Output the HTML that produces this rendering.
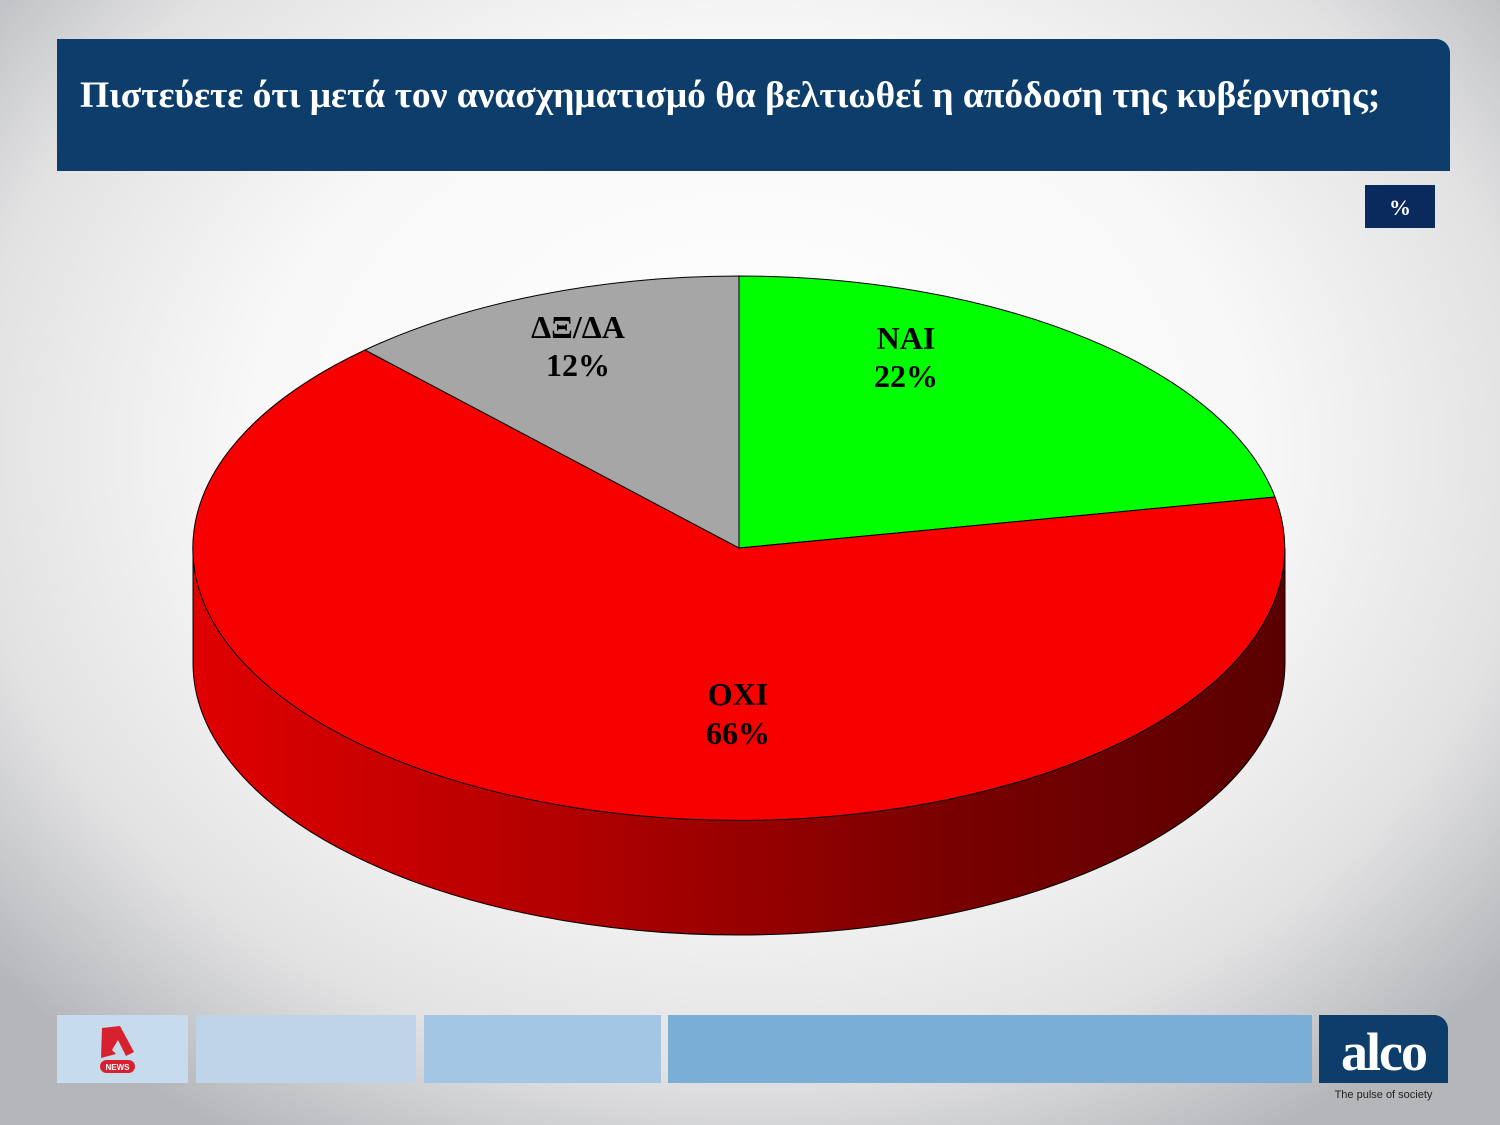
<!DOCTYPE html>
<html><head><meta charset="utf-8"><style>
body{margin:0;width:1500px;height:1125px;overflow:hidden;font-family:"Liberation Serif",serif;}
.bg{position:absolute;left:0;top:0;width:1500px;height:1125px;background:radial-gradient(ellipse 1000px 800px at 750px 450px,#ffffff 0%,#f8f8f8 50%,#e2e2e3 78%,#b4b6ba 100%);}
.hdr{position:absolute;left:57px;top:39px;width:1393px;height:132px;background:#0d3d6b;border-top-right-radius:14px;}
.title{position:absolute;left:80px;top:74px;color:#fff;font-weight:bold;font-size:37.5px;white-space:nowrap;}
.pct{position:absolute;left:1365px;top:185px;width:70px;height:43px;background:#0a2a5e;color:#fff;font-weight:bold;font-size:22px;text-align:center;line-height:45px;}
.b{position:absolute;top:1015px;height:68px;}
</style></head><body>
<div class="bg"></div>
<div class="hdr"></div>
<div class="title">Πιστεύετε ότι μετά τον ανασχηματισμό θα βελτιωθεί η απόδοση της κυβέρνησης;</div>
<div class="pct">%</div>
<svg style="position:absolute;left:0;top:0" width="1500" height="1125">
<defs><linearGradient id="g" x1="193" x2="1285" y1="0" y2="0" gradientUnits="userSpaceOnUse">
<stop offset="0" stop-color="#e00000"/><stop offset="0.35" stop-color="#b00000"/><stop offset="0.7" stop-color="#780000"/><stop offset="1" stop-color="#5a0000"/></linearGradient></defs>
<path d="M193,548 A546,272 0 0 0 1285,548 L1285,663 A546,272 0 0 1 193,663 Z" fill="url(#g)" stroke="#000" stroke-width="1"/>
<path d="M739,548 L739,276 A546,272 0 0 1 1275,497 Z" fill="#00ff00" stroke="#000" stroke-width="1"/>
<path d="M739,548 L1275,497 A546,272 0 1 1 365,350 Z" fill="#f80000" stroke="#000" stroke-width="1"/>
<path d="M739,548 L365,350 A546,272 0 0 1 739,276 Z" fill="#a6a6a6" stroke="#000" stroke-width="1"/>
<g font-family="Liberation Serif,serif" font-weight="bold" font-size="32" text-anchor="middle" fill="#000">
<text x="906" y="349">ΝΑΙ</text><text x="906" y="387">22%</text>
<text x="578" y="338">ΔΞ/ΔΑ</text><text x="578" y="376">12%</text>
<text x="738" y="705">ΟΧΙ</text><text x="738" y="744">66%</text>
</g>
</svg>
<div class="b" style="left:57px;width:131px;background:#c6dbeb"></div>
<svg style="position:absolute;left:98px;top:1024px" width="40" height="52"><path d="M4,4 L22,2 L36,28 L28,32 L20,16 L14,26 L18,30 L3,34 Z" fill="#d8212f"/><rect x="2" y="36" width="35" height="13" rx="6.5" fill="#d8212f"/><text x="19.5" y="46" font-family="Liberation Sans,sans-serif" font-size="8" font-weight="bold" fill="#fff" text-anchor="middle">NEWS</text></svg>
<div class="b" style="left:196px;width:220px;background:#bed5e9"></div>
<div class="b" style="left:424px;width:237px;background:#a2c6e3"></div>
<div class="b" style="left:668px;width:644px;background:#7aaed6"></div>
<div class="b" style="left:1319px;width:129px;background:#0d3d6b;border-top-right-radius:14px;color:#fff;font-size:54px;font-weight:bold;letter-spacing:-2px;text-align:center;line-height:74px;">alco</div>
<div style="position:absolute;left:1319px;top:1089px;width:129px;text-align:center;font-family:'Liberation Sans',sans-serif;font-size:11px;color:#222;">The pulse of society</div>
</body></html>
